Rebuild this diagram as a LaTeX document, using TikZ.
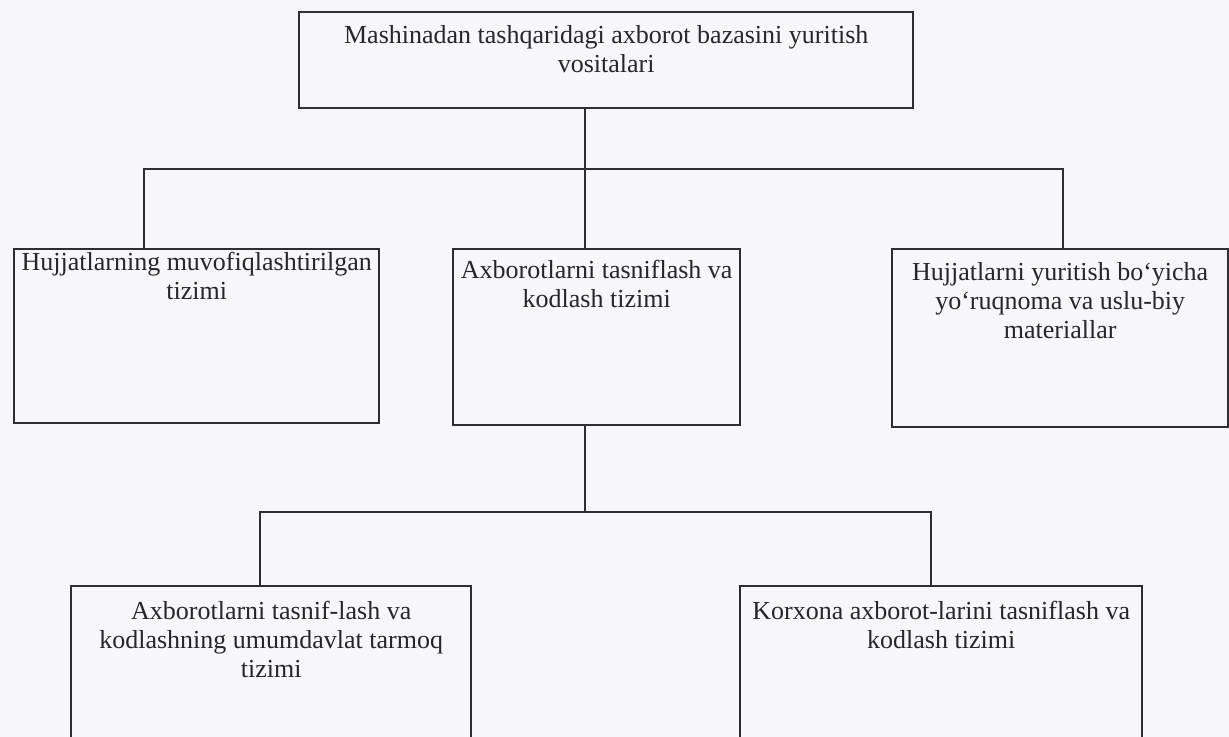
\documentclass[tikz,border=0pt]{standalone}
\usepackage{fontspec}
\setmainfont{Liberation Serif}
\definecolor{ink}{RGB}{45,45,50}
\definecolor{paper}{RGB}{247,247,249}

\begin{document}
\begin{tikzpicture}[
    x=0.5pt, y=-0.5pt,
    box/.style={rectangle, draw=ink, line width=1.2pt, anchor=north west},
    boxtext/.style={anchor=north, align=center, inner sep=0pt, text=ink!85!black, font=\fontsize{13}{14.5}\selectfont},
    link/.style={draw=ink, line width=1.2pt}
]
    \useasboundingbox (0,0) rectangle (1229,737);
    \clip (0,0) rectangle (1229,737);
    \fill[paper] (0,0) rectangle (1229,737);

    \node[box, minimum width=307pt, minimum height=48pt,
        label={[boxtext, yshift=-7pt]north:{Mashinadan tashqaridagi axborot bazasini yuritish\\vositalari}}] (top) at (298,11) {};

    \node[box, minimum width=182.5pt, minimum height=87pt,
        label={[boxtext, yshift=-2pt]north:{Hujjatlarning muvofiqlashtirilgan\\tizimi}}] (hl) at (13,248) {};
    \node[box, minimum width=143.5pt, minimum height=88pt,
        label={[boxtext, yshift=-6pt]north:{Axborotlarni tasniflash va\\kodlash tizimi}}] (mid) at (452,248) {};
    \node[box, minimum width=168pt, minimum height=89pt,
        label={[boxtext, yshift=-7pt]north:{Hujjatlarni yuritish bo`yicha\\yo`ruqnoma va uslu-biy\\materiallar}}] (rt) at (891,248) {};

    \node[box, minimum width=200pt, minimum height=87.5pt,
        label={[boxtext, yshift=-8pt]north:{Axborotlarni tasnif-lash va\\kodlashning umumdavlat tarmoq\\tizimi}}] (bl) at (70,585) {};
    \node[box, minimum width=201pt, minimum height=87.5pt,
        label={[boxtext, yshift=-8pt]north:{Korxona axborot-larini tasniflash va\\kodlash tizimi}}] (br) at (739,585) {};

    \coordinate (busL) at (144,169);
    \coordinate (busR) at (1063,169);
    \coordinate (busC) at (260,512);
    \coordinate (busD) at (931,512);

    \draw[link] (585,0 |- top.south) -- (585,0 |- mid.north);
    \draw[link] (busL |- hl.north) -- (busL) -- (busR) -- (busR |- rt.north);
    \draw[link] (585,0 |- mid.south) -- (585,512);
    \draw[link] (busC |- bl.north) -- (busC) -- (busD) -- (busD |- br.north);
\end{tikzpicture}
\end{document}
